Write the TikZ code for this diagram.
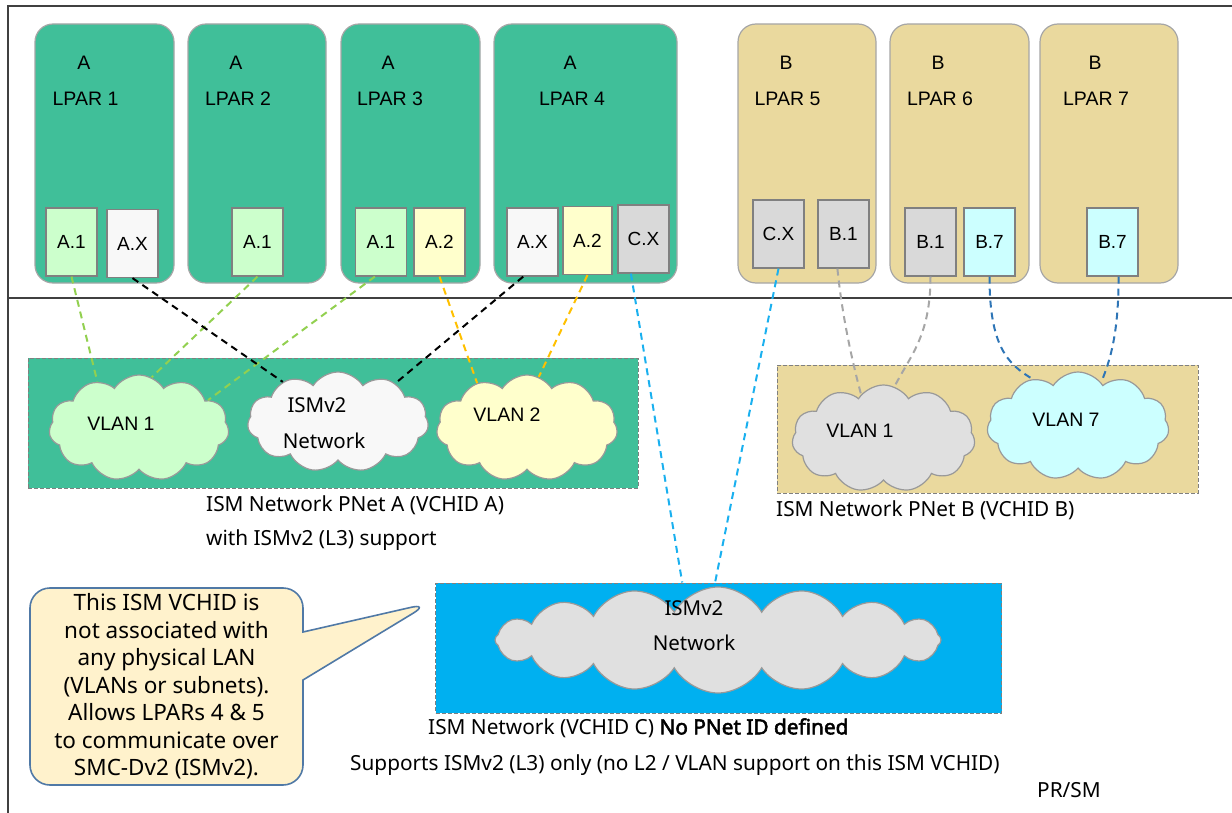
\documentclass[tikz,border=0pt]{standalone}
\usepackage{fontspec}
\setmainfont{Liberation Sans}
\newfontfamily\plexfont{Noto Sans}[AutoFakeBold=2.5]
\usetikzlibrary{shapes.symbols,shapes.callouts}

\definecolor{lparA}{HTML}{40BF99}
\definecolor{lparB}{HTML}{EAD99E}
\definecolor{lparEdge}{HTML}{A6A6A6}
\definecolor{adpGreen}{HTML}{CCFFCC}
\definecolor{adpWhite}{HTML}{F8F8F8}
\definecolor{adpYellow}{HTML}{FFFFCC}
\definecolor{adpGray}{HTML}{D9D9D9}
\definecolor{adpCyan}{HTML}{CCFFFF}
\definecolor{cloudGray}{HTML}{E0E0E0}
\definecolor{ismC}{HTML}{00B0F0}
\definecolor{linkGreen}{HTML}{92D050}
\definecolor{linkOrange}{HTML}{FFC000}
\definecolor{linkCyan}{HTML}{1AB0EF}
\definecolor{linkGray}{HTML}{A6A6A6}
\definecolor{linkBlue}{HTML}{2E75B6}
\definecolor{noteFill}{HTML}{FFF2CC}
\definecolor{noteEdge}{HTML}{5079A6}

\tikzset{
  frame/.style={draw=black!75, line width=1.3pt},
  lpar/.style={draw=lparEdge, line width=1.2pt, rounded corners=18pt, minimum height=259pt, inner sep=0pt},
  adapter/.style={draw=gray, line width=1.2pt, minimum width=51pt, minimum height=68pt, inner sep=0pt,
    font=\fontsize{19}{22}\selectfont},
  grp/.style={draw=gray, line width=1pt, dash pattern=on 4pt off 2pt, inner sep=0pt},
  net/.style={cloud, cloud puffs=11, cloud puff arc=115, cloud ignores aspect, draw=gray!80,
    line width=1.2pt, inner sep=0pt},
  link/.style={line width=2pt, dash pattern=on 7pt off 5pt},
  lbl/.style={inner sep=0pt, font=\fontsize{19.5}{22}\selectfont},
  plexlbl/.style={inner sep=0pt, font=\plexfont\fontsize{20.5}{22}\selectfont},
  captext/.style={inner sep=0pt, anchor=west, font=\plexfont\fontsize{20.8}{24}\selectfont},
  note/.style={rectangle callout, rounded corners=20pt, draw=noteEdge, line width=1.6pt, fill=noteFill,
    align=center, inner sep=0pt, callout pointer width=48pt,
    font=\plexfont\fontsize{22.5}{27.5}\selectfont}
}

\begin{document}
\begin{tikzpicture}[x=1pt,y=-1pt]
  \useasboundingbox (0,0) rectangle (1232,813);
  \draw[frame] (8,813) -- (8,6) -- (1232,6);
  \draw[frame] (8,298) -- (1232,298);

  \node[lpar, fill=lparA, minimum width=139pt] (lpar1) at (104.5,153.5) {};
  \node[lpar, fill=lparA, minimum width=138pt] (lpar2) at (257,153.5) {};
  \node[lpar, fill=lparA, minimum width=139pt] (lpar3) at (410.5,153.5) {};
  \node[lpar, fill=lparA, minimum width=183pt] (lpar4) at (585.5,153.5) {};
  \node[lpar, fill=lparB, minimum width=138pt] (lpar5) at (807,153.5) {};
  \node[lpar, fill=lparB, minimum width=139pt] (lpar6) at (959.5,153.5) {};
  \node[lpar, fill=lparB, minimum width=138pt] (lpar7) at (1109,153.5) {};

  \node[lbl] (lpar1g) at (84,63) {A};
  \node[lbl] (lpar1n) at (85.5,99) {LPAR 1};
  \node[lbl] (lpar2g) at (236,63) {A};
  \node[lbl] (lpar2n) at (238,99) {LPAR 2};
  \node[lbl] (lpar3g) at (388,63) {A};
  \node[lbl] (lpar3n) at (390,99) {LPAR 3};
  \node[lbl] (lpar4g) at (570,63) {A};
  \node[lbl] (lpar4n) at (572,99) {LPAR 4};
  \node[lbl] (lpar5g) at (786,63) {B};
  \node[lbl] (lpar5n) at (787.5,99) {LPAR 5};
  \node[lbl] (lpar6g) at (938,63) {B};
  \node[lbl] (lpar6n) at (940,99) {LPAR 6};
  \node[lbl] (lpar7g) at (1095,63) {B};
  \node[lbl] (lpar7n) at (1096,99) {LPAR 7};

  \node[adapter, fill=adpGreen] (p1a1) at (71.5,242) {A.1};
  \node[adapter, fill=adpWhite] (p1ax) at (132.5,243.5) {A.X};
  \node[adapter, fill=adpGreen] (p2a1) at (257.5,242) {A.1};
  \node[adapter, fill=adpGreen] (p3a1) at (381,242) {A.1};
  \node[adapter, fill=adpYellow] (p3a2) at (439.5,242) {A.2};
  \node[adapter, fill=adpWhite] (p4ax) at (532.5,242) {A.X};
  \node[adapter, fill=adpYellow, minimum width=49pt] (p4a2) at (587.5,240.5) {A.2};
  \node[adapter, fill=adpGray] (p4cx) at (643.5,239) {C.X};
  \node[adapter, fill=adpGray] (p5cx) at (778.5,234) {C.X};
  \node[adapter, fill=adpGray] (p5b1) at (843.5,234) {B.1};
  \node[adapter, fill=adpGray] (p6b1) at (930.5,242) {B.1};
  \node[adapter, fill=adpCyan] (p6b7) at (989.5,242) {B.7};
  \node[adapter, fill=adpCyan] (p7b7) at (1112.5,242) {B.7};

  \node[grp, fill=lparA, minimum width=610pt, minimum height=130pt] (grpA) at (333,423) {};
  \node[grp, fill=lparB, minimum width=421pt, minimum height=128pt] (grpB) at (987.5,429) {};
  \node[grp, fill=ismC, minimum width=566pt, minimum height=130pt] (grpC) at (718.5,648) {};

  \node[net, fill=adpGreen, minimum width=180pt, minimum height=106pt] (vlanA1) at (139,428) {};
  \node[net, fill=adpWhite, minimum width=181pt, minimum height=100pt] (ismA) at (338,422) {};
  \node[net, fill=adpYellow, minimum width=181pt, minimum height=106pt] (vlanA2) at (527,428) {};
  \node[net, fill=cloudGray, minimum width=183pt, minimum height=107pt] (vlanB1) at (883.5,438.5) {};
  \node[net, fill=adpCyan, minimum width=182pt, minimum height=108pt] (vlanB7) at (1078,426) {};
  \node[net, fill=cloudGray, cloud puffs=16, cloud puff arc=120, minimum width=446pt, minimum height=106pt] (ismCnet) at (718,640) {};

  \node[lbl] (vlanA1t) at (121,424) {VLAN 1};
  \node[plexlbl] (ismAt) at (317,405) {ISMv2};
  \node[plexlbl] (ismAn) at (324,441) {Network};
  \node[lbl] (vlanA2t) at (507,415) {VLAN 2};
  \node[lbl] (vlanB1t) at (860,431) {VLAN 1};
  \node[lbl] (vlanB7t) at (1066,420) {VLAN 7};
  \node[plexlbl] (ismCt) at (694,608) {ISMv2};
  \node[plexlbl] (ismCn) at (694,643) {Network};

  \draw[link, linkGreen] (p1a1.south) -- (vlanA1.132);
  \draw[link, linkGreen] (p2a1.south) -- (vlanA1.76);
  \draw[link, linkGreen] (p3a1.-100) -- (vlanA1.22);
  \draw[link, black] (p1ax.south) -- (ismA.144);
  \draw[link, black] (p4ax.-105) -- (ismA.34);
  \draw[link, linkOrange] (p3a2.south) -- (vlanA2.138);
  \draw[link, linkOrange] (p4a2.south) -- (vlanA2.77);
  \draw[link, linkCyan] (p4cx.-110) -- (grpC.119);
  \draw[link, linkCyan] (p5cx.south) -- (grpC.93);
  \draw[link, linkGray] (p5b1.-100) .. controls +(5,50) and +(-8,-30) .. (vlanB1.117);
  \draw[link, linkGray] (p6b1.south) .. controls +(0,60) and +(15,-30) .. (vlanB1.78);
  \draw[link, linkBlue] (p6b7.south) .. controls +(0,70) and +(-25,-15) .. (vlanB7.134);
  \draw[link, linkBlue] (p7b7.-80) .. controls +(0,60) and +(8,-20) .. (vlanB7.62);

  \node[captext] (capA1) at (206,505) {ISM Network PNet A (VCHID A)};
  \node[captext] (capA2) at (206,540) {with ISMv2 (L3) support};
  \node[captext] (capB) at (776,510) {ISM Network PNet B (VCHID B)};
  \node[captext] (capC1) at (428,728) {ISM Network (VCHID C) \textbf{No PNet ID defined}};
  \node[captext] (capC2) at (350,765) {Supports ISMv2 (L3) only (no L2 / VLAN support on this ISM VCHID)};
  \node[captext] (prsm) at (1037,790) {PR/SM};

  \coordinate (tip) at (430,603);
  \node[note, minimum width=273pt, minimum height=197pt, callout absolute pointer={(tip)}] (remark)
    at (166.5,686.5) {This ISM VCHID is\\not associated with\\any physical LAN\\(VLANs or subnets).\\Allows LPARs 4 \& 5\\to communicate over\\SMC-Dv2 (ISMv2).};
\end{tikzpicture}
\end{document}
